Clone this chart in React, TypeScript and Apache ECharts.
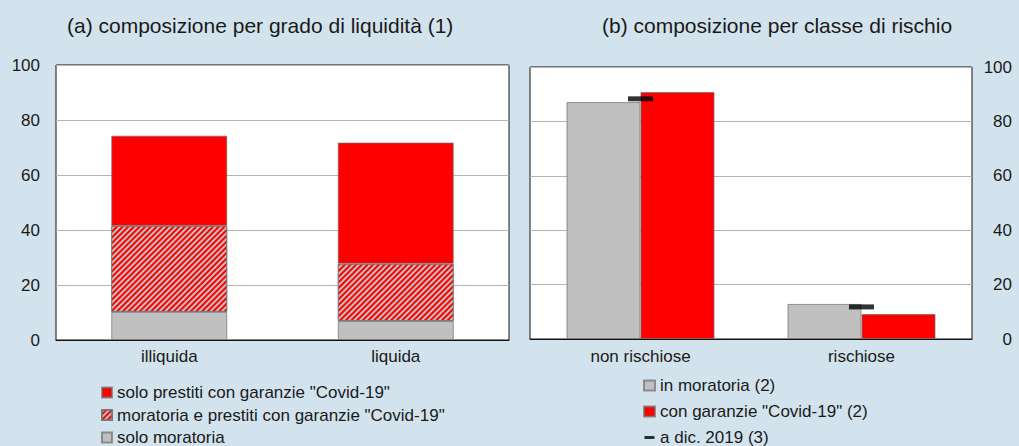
import React, { useEffect, useRef } from "react";
import * as echarts from "echarts";

const liquidityCats = ["illiquida", "liquida"];
const soloMoratoria = [10.2, 6.9];
const moratoriaEPrestiti = [31.3, 20.8];
const soloPrestiti = [32.8, 44.1];

const riskCats = ["non rischiose", "rischiose"];
const inMoratoria = [87.1, 12.9];
const conGaranzie = [90.8, 9.2];
const dic2019 = [88.3, 11.8];

const yTicks = [0, 20, 40, 60, 80, 100];

const names = {
  soloPrestiti: 'solo prestiti con garanzie "Covid-19"',
  moratoriaEPrestiti: 'moratoria e prestiti con garanzie "Covid-19"',
  soloMoratoria: "solo moratoria",
  inMoratoria: "in moratoria (2)",
  conGaranzie: 'con garanzie "Covid-19" (2)',
  dic2019: "a dic. 2019 (3)",
};

const RED = "#ff0000";
const GRAY = "#c0c0c0";
const BG = "#d3e3ed";
const TXT = "#1a1a1a";
const FONT = "Liberation Sans, Arial, sans-serif";

export default function App() {
  const ref = useRef<HTMLDivElement>(null);
  useEffect(() => {
    if (!ref.current) return;
    const chart = echarts.init(ref.current, null, { renderer: "svg" });
    const yAxisCommon = {
      type: "value",
      min: 0,
      max: 100,
      interval: 20,
      axisLine: { show: false },
      axisTick: { show: false },
      splitLine: { show: true, lineStyle: { color: "#b4b4b4", width: 1 } },
      axisLabel: {
        color: TXT,
        fontSize: 17,
        fontFamily: FONT,
        formatter: (v: number) => (yTicks.includes(v) ? String(v) : ""),
      },
    };
    const barBorder = { borderColor: "rgba(110,110,110,0.7)", borderWidth: 1 };
    chart.setOption({
      animation: false,
      backgroundColor: BG,
      textStyle: { fontFamily: FONT },
      title: [
        {
          text: "(a) composizione per grado di liquidità (1)",
          left: 62,
          top: 10,
          textStyle: { fontSize: 21, fontWeight: "normal", color: TXT, fontFamily: FONT },
        },
        {
          text: "(b) composizione per classe di rischio",
          left: 597,
          top: 10,
          textStyle: { fontSize: 21, fontWeight: "normal", color: TXT, fontFamily: FONT },
        },
      ],
      grid: [
        { left: 56, top: 65, width: 453, height: 275, show: true, backgroundColor: "#fff", borderColor: "#111", borderWidth: 1 },
        { left: 530, top: 67, width: 442, height: 272, show: true, backgroundColor: "#fff", borderColor: "#111", borderWidth: 1 },
      ],
      xAxis: [
        {
          type: "category",
          gridIndex: 0,
          data: liquidityCats,
          axisLine: { show: true, lineStyle: { color: "#111" } },
          axisTick: { show: false },
          axisLabel: { color: TXT, fontSize: 17, fontFamily: FONT, margin: 8 },
        },
        {
          type: "category",
          gridIndex: 1,
          data: riskCats,
          axisLine: { show: true, lineStyle: { color: "#111" } },
          axisTick: { show: false },
          axisLabel: { color: TXT, fontSize: 17, fontFamily: FONT, margin: 9 },
        },
      ],
      yAxis: [
        { ...yAxisCommon, gridIndex: 0, position: "left", axisLabel: { ...yAxisCommon.axisLabel, margin: 16 } },
        {
          ...yAxisCommon,
          gridIndex: 1,
          position: "right",
          axisLabel: { ...yAxisCommon.axisLabel, margin: 40, align: "right" },
        },
      ],
      legend: [
        {
          orient: "vertical",
          left: 101,
          top: 384,
          height: 120,
          itemWidth: 10,
          itemHeight: 10,
          itemGap: 5.5,
          padding: 0,
          icon: "rect",
          data: [names.soloPrestiti, names.moratoriaEPrestiti, names.soloMoratoria],
          textStyle: { color: TXT, fontSize: 17, fontFamily: FONT, lineHeight: 16 },
        },
        {
          orient: "vertical",
          left: 643,
          top: 377,
          height: 120,
          itemWidth: 11,
          itemHeight: 10,
          itemGap: 9,
          padding: 0,
          data: [
            { name: names.inMoratoria, icon: "rect" },
            { name: names.conGaranzie, icon: "rect" },
            { name: names.dic2019, icon: "path://M0,0L0.01,0Z M0,3.5H10V6.5H0Z M0,10L0.01,10Z" },
          ],
          textStyle: { color: TXT, fontSize: 17, fontFamily: FONT, lineHeight: 16 },
        },
      ],
      series: [
        {
          name: names.soloMoratoria,
          type: "bar",
          xAxisIndex: 0,
          yAxisIndex: 0,
          stack: "a",
          barWidth: 116,
          data: soloMoratoria,
          itemStyle: { color: GRAY, ...barBorder },
        },
        {
          name: names.moratoriaEPrestiti,
          type: "bar",
          xAxisIndex: 0,
          yAxisIndex: 0,
          stack: "a",
          barWidth: 116,
          data: moratoriaEPrestiti,
          itemStyle: {
            color: RED,
            ...barBorder,
            decal: {
              symbol: "rect",
              color: GRAY,
              dashArrayX: [1, 0],
              dashArrayY: [1.4, 1.8],
              rotation: -Math.PI / 4,
              symbolSize: 1,
            },
          },
        },
        {
          name: names.soloPrestiti,
          type: "bar",
          xAxisIndex: 0,
          yAxisIndex: 0,
          stack: "a",
          barWidth: 116,
          data: soloPrestiti,
          itemStyle: { color: RED, ...barBorder },
        },
        {
          name: names.inMoratoria,
          type: "bar",
          xAxisIndex: 1,
          yAxisIndex: 1,
          barWidth: 74,
          barGap: "0%",
          data: inMoratoria,
          itemStyle: { color: GRAY, ...barBorder },
        },
        {
          name: names.conGaranzie,
          type: "bar",
          xAxisIndex: 1,
          yAxisIndex: 1,
          barWidth: 74,
          barGap: "0%",
          data: conGaranzie,
          itemStyle: { color: RED, ...barBorder },
        },
        {
          name: names.dic2019,
          type: "scatter",
          xAxisIndex: 1,
          yAxisIndex: 1,
          symbol: "rect",
          symbolSize: [25, 5],
          data: dic2019,
          itemStyle: { color: "#000" },
          z: 5,
        },
      ],
    });
    return () => chart.dispose();
  }, []);
  return (
    <div
      ref={ref}
      style={{ position: "absolute", left: 0, top: 0, width: 1019, height: 446, background: BG }}
    />
  );
}
